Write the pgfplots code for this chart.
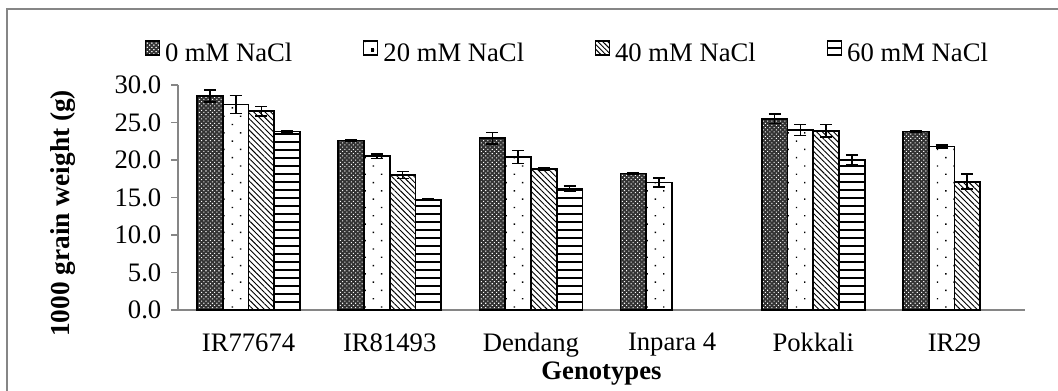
\documentclass[border=0pt]{standalone}
\usepackage{fontspec}
\setmainfont{Liberation Serif}
\usepackage{pgfplots}
\usepackage{pgfplotstable}
\pgfplotsset{compat=1.18}
\usetikzlibrary{patterns,patterns.meta}
\definecolor{axgray}{RGB}{134,134,134}
\tikzset{
 checkfill/.style={fill=black!80,postaction={pattern={Dots[distance=2.3pt,angle=45,radius=0.55pt]},pattern color=white}},
 dotfill/.style={fill=white,postaction={pattern={Dots[distance=8.8pt,angle=45,radius=0.75pt]}}},
}

\pgfplotstableread{
x y e
0 28.5 0.8
1 22.6 0.05
2 22.9 0.75
3 18.2 0.15
4 25.5 0.65
5 23.8 0.05
}\tzero
\pgfplotstableread{
x y e
0 27.4 1.2
1 20.5 0.3
2 20.4 0.85
3 17.0 0.6
4 24.0 0.75
5 21.8 0.2
}\ttwenty
\pgfplotstableread{
x y e
0 26.5 0.65
1 18.0 0.45
2 18.8 0.15
4 23.9 0.85
5 17.1 1.0
}\tforty
\pgfplotstableread{
x y e
0 23.8 0.1
1 14.7 0.1
2 16.2 0.3
4 20.0 0.7
}\tsixty

\begin{document}
\begin{tikzpicture}
\useasboundingbox (-133.5pt,-60pt) rectangle (660pt,232.5pt);
\draw[axgray,line width=1.4pt] (-128.5pt,-70pt) rectangle (670pt,226pt);
\node[rotate=90,anchor=center,font=\bfseries\fontsize{20.5}{24}\selectfont] at (-86.25pt,72.5pt) {1000 grain weight (g)};
\begin{axis}[
 scale only axis, width=635.25pt, height=168.75pt,
 ybar=0pt, bar width=19.3pt,
 xmin=-0.5, xmax=5.5, ymin=0, ymax=30,
 axis x line=bottom, axis y line=left,
 axis line style={axgray, line width=0.9pt, -},
 xtick={0,1,2,3,4,5},
 xticklabels={IR77674,IR81493,Dendang,Inpara 4,Pokkali,IR29},
 x tick style={draw=none},
 xticklabel style={yshift=-9pt},
 ytick={0,5,...,30},
 y tick style={axgray,line width=0.9pt},
 tick align=outside, major tick length=5pt,
 yticklabel style={xshift=-4pt,/pgf/number format/.cd,fixed,fixed zerofill,precision=1,assume math mode=true},
 tick label style={font=\fontsize{20}{24}\selectfont},
 xlabel={Genotypes},
 xlabel style={at={(axis description cs:0.5,-0.284)},anchor=center,font=\bfseries\fontsize{20}{24}\selectfont},
 legend columns=4,
 legend style={draw=none, at={(0.46,1.14)}, anchor=center, font=\fontsize{20}{24}\selectfont,
   /tikz/every even column/.append style={column sep=51pt},
   /tikz/every odd column/.append style={column sep=2pt}},
 error bars/y dir=both, error bars/y explicit,
 error bars/error bar style={black,line width=1.2pt},
 error bars/error mark options={black,rotate=90,mark size=4.5pt,line width=1.2pt},
]
\addplot[draw=black,line width=1.3pt,checkfill,
 legend image code/.code={\draw[black,line width=0.8pt,checkfill] (0pt,-1pt) rectangle (10.5pt,9.5pt);}]
 table[x=x,y=y,y error=e]{\tzero};
\addplot[draw=black,line width=1.3pt,dotfill,
 legend image code/.code={\draw[black,line width=0.8pt,fill=white] (0pt,-1pt) rectangle (10.5pt,9.5pt);
   \fill[black] (6pt,2pt) rectangle (7.4pt,3.4pt);}]
 table[x=x,y=y,y error=e]{\ttwenty};
\addplot[draw=black,line width=1.3pt,pattern={Lines[angle=-45,distance=3pt,line width=0.7pt]},
 legend image code/.code={\draw[black,line width=0.8pt,pattern={Lines[angle=-45,distance=2.6pt,line width=0.7pt]}] (0pt,-1pt) rectangle (10.5pt,9.5pt);}]
 table[x=x,y=y,y error=e]{\tforty};
\addplot[draw=black,line width=1.3pt,pattern={Lines[angle=0,distance=6pt,line width=1.4pt]},
 legend image code/.code={\draw[black,line width=0.8pt,fill=white] (0pt,-1pt) rectangle (10.5pt,9.5pt);
   \draw[black,line width=1pt] (0pt,4.25pt) -- (10.5pt,4.25pt);}]
 table[x=x,y=y,y error=e]{\tsixty};
\legend{0 mM NaCl,20 mM NaCl,40 mM NaCl,60 mM NaCl}
\end{axis}
\end{tikzpicture}
\end{document}
